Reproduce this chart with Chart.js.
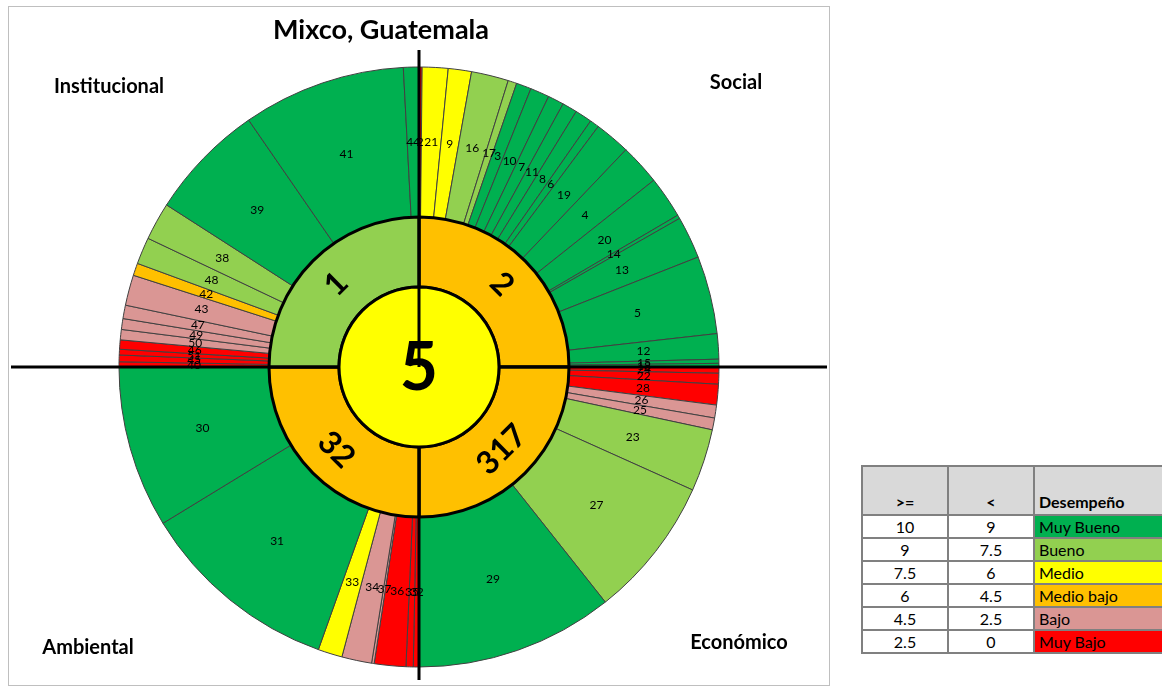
<!DOCTYPE html>
<html>
<head>
<meta charset="utf-8">
<title>Mixco, Guatemala</title>
<script src="https://cdn.jsdelivr.net/npm/chart.js@4.4.0/dist/chart.umd.min.js"></script>
<style>
  body { margin: 0; width: 1162px; height: 690px; overflow: hidden; background: #fff; position: relative;
         font-family: Lato, 'Liberation Sans', sans-serif; color: #000; }
  #frame { position: absolute; left: 8px; top: 6px; width: 820px; height: 678px; border: 1px solid #bfbfbf; }
  #frame canvas { position: absolute; left: 0; top: 0; }
  .lbl { position: absolute; font-weight: bold; white-space: nowrap; transform: translate(-50%, -50%); }
  #title { left: 381px; top: 28px; font-size: 27px; }
  .quad { font-size: 20px; }
  #legend { position: absolute; left: 861px; top: 465px; border-collapse: collapse; font-size: 16px;
            table-layout: fixed; width: 330px; }
  #legend td, #legend th { border: 2px solid #808080; padding: 0 4px; height: 21px; line-height: 21px; }
  #legend th { background: #d9d9d9; height: 47px; line-height: 24px; vertical-align: bottom; font-weight: bold; }
  #legend .num { width: 76px; text-align: center; }
  #legend .name { width: 154px; text-align: left; }
</style>
</head>
<body>
<div id="frame"><canvas id="sunburst" width="820" height="678"></canvas></div>
<div id="title" class="lbl">Mixco, Guatemala</div>
<div id="quads"></div>
<table id="legend"></table>

<script>
  // Outer ring: indicators, clockwise from the top (Social, Económico, Ambiental, Institucional)
  const outerLabels = [
    '2', '21', '9', '16', '17', '3', '10', '7', '11', '8', '6', '19', '4', '20', '14', '13', '5', '12', '15', '18',
    '24', '22', '28', '26', '25', '23', '27', '29',
    '32', '35', '36', '37', '34', '33', '31', '30',
    '40', '45', '51', '46', '50', '49', '47', '43', '42', '48', '38', '39', '41', '44'
  ];
  const outerValues = [
    0.6, 5.0, 4.5, 7.2, 1.7, 2.9, 3.7, 3.1, 2.9, 3.3, 1.8, 6.9, 7.9, 8.1, 0.7, 8.2, 15.1, 4.9, 0.8, 0.7,
    1.2, 2.1, 4.0, 2.5, 2.3, 12.1, 27.4, 38.4,
    1.1, 1.4, 6.1, 0.5, 5.8, 4.7, 39.0, 31.4,
    1.0, 1.3, 1.1, 1.8, 2.0, 2.1, 2.6, 5.9, 2.4, 5.2, 7.3, 22.7, 31.6, 3.0
  ];
  const outerClass = [
    'muyBajo', 'medio', 'medio', 'bueno', 'bueno',
    'muyBueno', 'muyBueno', 'muyBueno', 'muyBueno', 'muyBueno', 'muyBueno', 'muyBueno', 'muyBueno',
    'muyBueno', 'muyBueno', 'muyBueno', 'muyBueno', 'muyBueno', 'muyBueno', 'muyBueno',
    'muyBajo', 'muyBajo', 'muyBajo', 'bajo', 'bajo', 'bueno', 'bueno', 'muyBueno',
    'muyBajo', 'muyBajo', 'muyBajo', 'bajo', 'bajo', 'medio', 'muyBueno', 'muyBueno',
    'muyBajo', 'muyBajo', 'muyBajo', 'muyBajo', 'bajo', 'bajo', 'bajo', 'bajo', 'medioBajo',
    'bueno', 'bueno', 'muyBueno', 'muyBueno', 'muyBueno'
  ];

  // Inner ring: components
  const innerLabels = ['2', '317', '32', '1'];
  const innerValues = [1, 1, 1, 1];
  const innerClass = ['medioBajo', 'medioBajo', 'medioBajo', 'bueno'];

  // Centre: overall index
  const centerLabel = '5';
  const centerClass = 'medio';

  const quadrantNames = ['Social', 'Económico', 'Ambiental', 'Institucional'];

  // Legend table
  const rangeFrom = ['10', '9', '7.5', '6', '4.5', '2.5'];
  const rangeTo = ['9', '7.5', '6', '4.5', '2.5', '0'];
  const rangeNames = ['Muy Bueno', 'Bueno', 'Medio', 'Medio bajo', 'Bajo', 'Muy Bajo'];
  const rangeClass = ['muyBueno', 'bueno', 'medio', 'medioBajo', 'bajo', 'muyBajo'];

  const palette = {
    muyBueno: '#00b050',
    bueno: '#92d050',
    medio: '#ffff00',
    medioBajo: '#ffc000',
    bajo: '#da9694',
    muyBajo: '#ff0000'
  };

  // quadrant captions (page px)
  const quadPos = [[736, 81], [739, 641], [88, 646], [109, 85]];
  const quads = document.getElementById('quads');
  quadrantNames.forEach((name, i) => {
    const d = document.createElement('div');
    d.className = 'lbl quad';
    d.textContent = name;
    d.style.left = quadPos[i][0] + 'px';
    d.style.top = quadPos[i][1] + 'px';
    quads.appendChild(d);
  });

  // legend table
  const table = document.getElementById('legend');
  let html = '<tr><th class="num">&gt;=</th><th class="num">&lt;</th><th class="name">Desempeño</th></tr>';
  rangeNames.forEach((name, i) => {
    html += '<tr><td class="num">' + rangeFrom[i] + '</td><td class="num">' + rangeTo[i] +
      '</td><td class="name" style="background:' + palette[rangeClass[i]] + '">' + name + '</td></tr>';
  });
  table.innerHTML = html;

  // axis cross, drawn after the inner ring so the centre disc covers it
  const crossPlugin = {
    id: 'cross',
    afterDatasetDraw(chart, args) {
      if (args.index !== 1) return;
      const arc = chart.getDatasetMeta(0).data[0];
      const ctx = chart.ctx;
      ctx.save();
      ctx.strokeStyle = '#000';
      ctx.lineWidth = 3;
      ctx.beginPath();
      ctx.moveTo(2, arc.y);
      ctx.lineTo(chart.width - 2, arc.y);
      ctx.moveTo(arc.x, arc.y - arc.outerRadius - 17);
      ctx.lineTo(arc.x, arc.y + arc.outerRadius + 13);
      ctx.stroke();
      ctx.restore();
    }
  };

  // text on the slices
  const labelPlugin = {
    id: 'sliceLabels',
    afterDatasetsDraw(chart) {
      const ctx = chart.ctx;
      ctx.save();
      ctx.fillStyle = '#000';
      ctx.textAlign = 'center';
      ctx.textBaseline = 'middle';

      ctx.font = '12px Lato, sans-serif';
      chart.getDatasetMeta(0).data.forEach((a, i) => {
        const mid = (a.startAngle + a.endAngle) / 2;
        const r = (a.innerRadius + a.outerRadius) / 2;
        ctx.fillText(outerLabels[i], a.x + Math.cos(mid) * r, a.y + Math.sin(mid) * r);
      });

      ctx.font = 'bold 32px Lato, sans-serif';
      chart.getDatasetMeta(1).data.forEach((a, i) => {
        const mid = (a.startAngle + a.endAngle) / 2;
        const r = (a.innerRadius + a.outerRadius) / 2 + 2;
        let rot = mid + Math.PI / 2;
        while (rot > Math.PI / 2) rot -= Math.PI;
        while (rot <= -Math.PI / 2) rot += Math.PI;
        ctx.save();
        ctx.translate(a.x + Math.cos(mid) * r, a.y + Math.sin(mid) * r);
        ctx.rotate(rot);
        ctx.fillText(innerLabels[i], 0, 0);
        ctx.restore();
      });

      const c = chart.getDatasetMeta(2).data[0];
      ctx.font = 'bold 66px Lato, sans-serif';
      ctx.fillText(centerLabel, c.x, c.y + 2);
      ctx.restore();
    }
  };

  new Chart(document.getElementById('sunburst'), {
    type: 'doughnut',
    data: {
      labels: outerLabels,
      datasets: [
        {
          data: outerValues,
          backgroundColor: outerClass.map(k => palette[k]),
          borderColor: '#404040',
          borderWidth: 1,
          weight: 150,
          order: 2
        },
        {
          data: innerValues,
          backgroundColor: innerClass.map(k => palette[k]),
          borderColor: '#000',
          borderWidth: 3,
          weight: 70,
          order: 1
        },
        {
          data: [1],
          backgroundColor: [palette[centerClass]],
          borderColor: '#000',
          borderWidth: 3,
          weight: 80,
          order: 0
        }
      ]
    },
    options: {
      responsive: false,
      animation: false,
      cutout: 0,
      radius: 300,
      layout: { padding: { top: 42, bottom: 0 } },
      plugins: {
        legend: { display: false },
        tooltip: { enabled: false }
      }
    },
    plugins: [crossPlugin, labelPlugin]
  });
</script>
</body>
</html>
